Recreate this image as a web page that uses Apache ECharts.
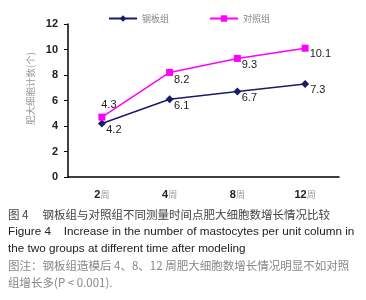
<!DOCTYPE html>
<html>
<head>
<meta charset="utf-8">
<script src="https://cdn.jsdelivr.net/npm/echarts@6/dist/echarts.min.js"></script>
<style>
  html, body { margin: 0; padding: 0; background: #fff; }
  #main { width: 366px; height: 300px; }
</style>
</head>
<body>
<div id="main"></div>
<script>
var categories = ['2周', '4周', '8周', '12周'];
var steelValues = [4.2, 6.1, 6.7, 7.3];
var controlValues = [4.7, 8.2, 9.3, 10.1];   // point heights as drawn
var controlLabels = ['4.3', '8.2', '9.3', '10.1']; // numbers printed in the figure
var yTicks = [0, 2, 4, 6, 8, 10, 12];

var chartDom = document.getElementById('main');
var myChart = echarts.init(chartDom);
var option;

var cjk = '"Noto Sans CJK SC", sans-serif';
var latin = '"Liberation Sans", Arial, sans-serif';

function labelsFor(values, texts, places) {
  return values.map(function (v, i) {
    return {
      value: v,
      label: { position: places[i][0], offset: places[i][1], formatter: texts[i] }
    };
  });
}

option = {
  animation: false,
  grid: { left: 68, right: 27, top: 24, bottom: 123 },
  legend: {
    top: 9,
    left: 103,
    itemGap: 40,
    itemWidth: 28,
    itemHeight: 8,
    textStyle: { fontFamily: cjk, fontSize: 9, color: '#888' },
    data: ['钢板组', '对照组']
  },
  xAxis: {
    type: 'category',
    data: categories,
    axisLine: { lineStyle: { color: '#000', width: 1.5 } },
    axisTick: { length: 4, lineStyle: { color: '#000' } },
    axisLabel: {
      interval: 0,
      margin: 12,
      formatter: function (v) { return '{n|' + v.replace('周', '') + '}{c|周}'; },
      rich: {
        n: { fontFamily: latin, fontSize: 11, fontWeight: 'bold', color: '#222' },
        c: { fontFamily: cjk, fontSize: 9, color: '#999' }
      }
    }
  },
  yAxis: {
    type: 'value',
    min: 0,
    max: 12,
    interval: 2,
    name: '肥大细胞计数(个)',
    nameLocation: 'middle',
    nameGap: 33,
    nameTextStyle: { fontFamily: cjk, fontSize: 9.5, color: '#999', padding: [0, 0, 0, 24] },
    axisLine: { show: true, lineStyle: { color: '#000', width: 1.5 } },
    axisTick: { show: true, length: 4, lineStyle: { color: '#000' } },
    splitLine: { show: false },
    axisLabel: {
      margin: 10,
      fontFamily: latin, fontSize: 11, fontWeight: 'bold', color: '#222',
      formatter: function (v) { return yTicks.indexOf(v) >= 0 ? String(v) : ''; }
    }
  },
  series: [
    {
      name: '钢板组',
      type: 'line',
      symbol: 'diamond',
      symbolSize: 8,
      color: '#1c1a6b',
      lineStyle: { width: 1.5 },
      label: { show: true, fontFamily: latin, fontSize: 11, color: '#222' },
      data: labelsFor(steelValues, steelValues.map(String),
        [['bottom', [12, -8]], ['bottom', [12, -8]], ['bottom', [12, -8]], ['right', [-4, 6]]])
    },
    {
      name: '对照组',
      type: 'line',
      symbol: 'rect',
      symbolSize: 7,
      color: '#ff00ff',
      lineStyle: { width: 1.5 },
      label: { show: true, fontFamily: latin, fontSize: 11, color: '#222' },
      data: labelsFor(controlValues, controlLabels,
        [['top', [7, 2]], ['bottom', [12, -6]], ['bottom', [12, -7]], ['right', [-4, 6]]])
    }
  ],
  graphic: [
    { type: 'text', left: 8, top: 209, style: { text: '图 4　 钢板组与对照组不同测量时间点肥大细胞数增长情况比较', font: '11.5px ' + cjk, fill: '#444' } },
    { type: 'text', left: 8, top: 226, style: { text: 'Figure 4    Increase in the number of mastocytes per unit column in', font: '11.7px ' + latin, fill: '#222' } },
    { type: 'text', left: 8, top: 243, style: { text: 'the two groups at different time after modeling', font: '11.7px ' + latin, fill: '#222' } },
    { type: 'text', left: 8, top: 260, style: { text: '图注：钢板组造模后 4、8、12 周肥大细胞数增长情况明显不如对照', font: '11.5px ' + cjk, fill: '#888' } },
    { type: 'text', left: 8, top: 277, style: { text: '组增长多(P < 0.001).', font: '11.5px ' + cjk, fill: '#888' } }
  ]
};

option && myChart.setOption(option);
</script>
</body>
</html>
